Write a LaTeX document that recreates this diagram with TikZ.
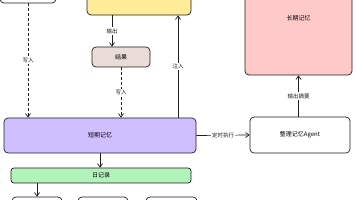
\documentclass[tikz,border=0pt]{standalone}
\usepackage{fontspec}
\setmainfont{Noto Sans CJK SC}
\usetikzlibrary{arrows.meta}
\definecolor{ink}{HTML}{1E1E1E}
\definecolor{cyel}{HTML}{FFEC99}
\definecolor{cpink}{HTML}{FFC9C9}
\definecolor{cpur}{HTML}{D0BFFF}
\definecolor{cgrn}{HTML}{B2F2BB}
\definecolor{cbrn}{HTML}{EADDD7}
\tikzset{
  box/.style={draw=ink, line width=0.7pt, rounded corners=4pt, inner sep=0pt},
  lbl/.style={font=\fontsize{5.5}{6}\selectfont, text=ink, fill=white, inner sep=1pt},
  arr/.style={draw=ink, line width=0.7pt, -{Straight Barb[length=3.5pt,width=5pt]}},
  darr/.style={arr, dash pattern=on 3pt off 2pt},
}
\begin{document}
\begin{tikzpicture}[x=1pt,y=-1pt]
\fill[white] (0,0) rectangle (356,200);
\clip (0,0) rectangle (356,200);
\useasboundingbox (0,0) rectangle (356,200);
% boxes
\node[box, fill=white, minimum width=56pt, minimum height=40pt] (src) at (28,-17) {};
\node[box, fill=cyel, minimum width=104pt, minimum height=60pt] (yel) at (139,-15) {};
\node[box, fill=cpink, minimum width=107pt, minimum height=114pt, font=\fontsize{6}{7}\selectfont] (pink) at (298.5,18) {长期记忆};
\node[box, fill=cbrn, minimum width=58pt, minimum height=20pt, font=\fontsize{6}{7}\selectfont] (res) at (121,57) {结果};
\node[box, fill=cpur, minimum width=192pt, minimum height=35pt, font=\fontsize{6}{7}\selectfont] (stm) at (100,135.5) {短期记忆};
\node[box, fill=white, minimum width=100pt, minimum height=36pt, font=\fontsize{6}{7}\selectfont] (agent) at (300,135) {整理记忆Agent};
\node[box, fill=cgrn, minimum width=180pt, minimum height=15pt, rounded corners=3pt, font=\fontsize{6}{7}\selectfont] (diary) at (101,175.5) {日记录};
\node[box, fill=white, minimum width=50pt, minimum height=20pt] (b1) at (37,207) {};
\node[box, fill=white, minimum width=50pt, minimum height=20pt] (b2) at (103,207) {};
\node[box, fill=white, minimum width=51pt, minimum height=20pt] (b3) at (171.5,207) {};
% connectors
\draw[darr] (src.south) -- node[lbl, pos=0.5] {写入} (src.south |- stm.north);
\draw[arr] ([xshift=-9pt]res.north |- yel.south) -- node[lbl, pos=0.5] {输出} ([xshift=-9pt]res.north);
\draw[darr] (res.south) -- node[lbl, pos=0.5] {写入} (res.south |- stm.north);
\draw[arr] ([xshift=78pt]stm.north) -- node[lbl, pos=0.5] {注入} ([xshift=78pt]stm.north |- yel.south);
\draw[arr] (stm.east) -- node[lbl, pos=0.5] {定时执行} (agent.west);
\draw[arr] (agent.north -| pink.south) -- node[lbl, pos=0.5] {输出摘要} (pink.south);
\draw[arr] (stm.south) -- ([xshift=-1pt]diary.north);
\draw[arr] (b1.north |- diary.south) -- (b1.north);
\end{tikzpicture}
\end{document}
